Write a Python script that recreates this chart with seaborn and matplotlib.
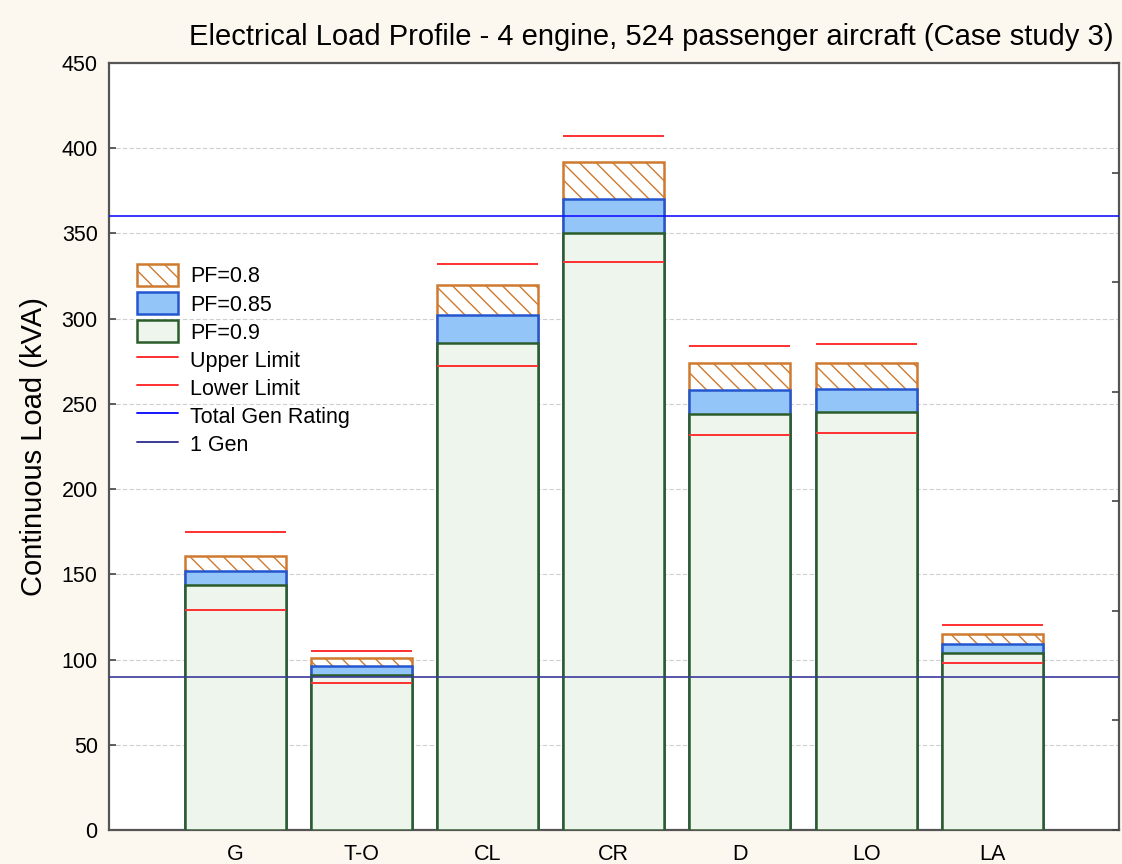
import matplotlib
matplotlib.use("Agg")
import matplotlib.pyplot as plt
import seaborn as sns
import numpy as np
import pandas as pd
from matplotlib.patches import Patch
from matplotlib.lines import Line2D

# ---- data ----
phases = ["G", "T-O", "CL", "CR", "D", "LO", "LA"]
pf_08 = [161, 101, 320, 392, 274, 274, 115]
pf_085 = [152, 96, 302, 370, 258, 259, 109]
pf_09 = [144, 91, 286, 350, 244, 245, 104]
upper_limit = [175, 105, 332, 407, 284, 285, 120]
lower_limit = [129, 86, 272, 333, 232, 233, 98]
total_gen_rating = 360
one_gen = 90
y_ticks = [0, 50, 100, 150, 200, 250, 300, 350, 400, 450]

title = "Electrical Load Profile - 4 engine, 524 passenger aircraft (Case study 3)"
ylabel = "Continuous Load (kVA)"

sns.set_style("white")
plt.rcParams["font.family"] = ["Liberation Sans", "DejaVu Sans"]
plt.rcParams["hatch.linewidth"] = 1.0
plt.rcParams["text.color"] = "black"
plt.rcParams["axes.labelcolor"] = "black"

df = pd.DataFrame({"phase": phases, "pf08": pf_08, "pf085": pf_085, "pf09": pf_09,
                   "up": upper_limit, "lo": lower_limit})

fig = plt.figure(figsize=(11.22, 8.64), dpi=100, facecolor="#fdf8ef")
ax = fig.add_axes([0.097, 0.0394, 0.9, 0.8876])
ax.set_facecolor("white")

ax.yaxis.grid(True, color="#cfcfcf", linestyle=(0, (4, 2)), linewidth=0.8)
ax.set_axisbelow(True)

orange = "#cf7a30"
blue_face = "#93c5f9"
blue_edge = "#2457cf"
green_face = "#eef5ec"
green_edge = "#2b5d2b"

bar_w = 0.8
sns.barplot(data=df, x="phase", y="pf08", order=phases, ax=ax, color="white", saturation=1,
            edgecolor=orange, linewidth=1.8, hatch="\\\\", width=bar_w, zorder=2)
sns.barplot(data=df, x="phase", y="pf085", order=phases, ax=ax, color=blue_face, saturation=1,
            edgecolor=blue_edge, linewidth=1.8, width=bar_w, zorder=3)
sns.barplot(data=df, x="phase", y="pf09", order=phases, ax=ax, color=green_face, saturation=1,
            edgecolor=green_edge, linewidth=1.8, width=bar_w, zorder=4)

xpos = np.arange(len(phases))
ax.hlines(df["up"], xpos - bar_w / 2, xpos + bar_w / 2, color="#ff3030", linewidth=1.4, zorder=5)
ax.hlines(df["lo"], xpos - bar_w / 2, xpos + bar_w / 2, color="#ff3030", linewidth=1.4, zorder=5)
ax.axhline(total_gen_rating, color="#1515ff", linewidth=1.2, zorder=6)
ax.axhline(one_gen, color="#3a3a9a", linewidth=1.2, zorder=6)

ax.set_xlim(-1, len(phases))
ax.set_ylim(0, 450)
ax.set_yticks(y_ticks)
ax.set_xlabel("")
ax.set_ylabel(ylabel, fontsize=21, labelpad=10)
ax.tick_params(axis="both", direction="in", length=5, width=1.2, color="#444444",
               labelcolor="black", labelsize=15.5, pad=8)
ax.tick_params(axis="x", pad=10)
for s in ax.spines.values():
    s.set_color("#555555")
    s.set_linewidth(1.6)

ax2 = ax.twinx()
ax2.set_ylim(0, 7)
ax2.set_yticks(range(8))
ax2.tick_params(axis="y", direction="in", length=5, width=1.2, color="#444444", labelright=False)
for s in ax2.spines.values():
    s.set_visible(False)

fig.text(0.992, 0.957, title, ha="right", va="center", fontsize=21, color="black",
         family=["Liberation Sans Narrow", "Liberation Sans", "DejaVu Sans"])

handles = [
    Patch(facecolor="white", edgecolor=orange, hatch="\\\\", linewidth=1.8),
    Patch(facecolor=blue_face, edgecolor=blue_edge, linewidth=1.8),
    Patch(facecolor=green_face, edgecolor=green_edge, linewidth=1.8),
    Line2D([], [], color="#ff3030", linewidth=1.4),
    Line2D([], [], color="#ff3030", linewidth=1.4),
    Line2D([], [], color="#1515ff", linewidth=1.4),
    Line2D([], [], color="#3a3a9a", linewidth=1.4),
]
labels = ["PF=0.8", "PF=0.85", "PF=0.9", "Upper Limit", "Lower Limit", "Total Gen Rating", "1 Gen"]
ax.legend(handles, labels, loc="upper left", bbox_to_anchor=(0.019, 0.749), frameon=False,
          fontsize=15.5, handlelength=1.9, handleheight=1.2, labelspacing=0.22,
          handletextpad=0.6, borderaxespad=0)

fig.savefig("out.png", dpi=100, facecolor=fig.get_facecolor())
